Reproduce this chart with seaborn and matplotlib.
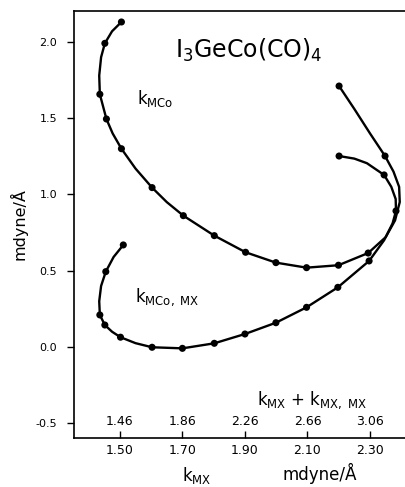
import numpy as np
import pandas as pd
import seaborn as sns
import matplotlib
matplotlib.use('Agg')
import matplotlib.pyplot as plt

# marked points, k_MCo curve (upper)
kmco_x = [1.505, 1.452, 1.436, 1.457, 1.505, 1.603, 1.703, 1.802, 1.902, 1.999,
          2.097, 2.199, 2.294, 2.348, 2.201]
kmco_y = [2.131, 1.991, 1.657, 1.495, 1.300, 1.045, 0.861, 0.730, 0.621, 0.553,
          0.520, 0.536, 0.616, 1.252, 1.711]

# traced line of the same curve (includes unmarked bends)
kmco_line_x = [1.505, 1.475, 1.452, 1.440, 1.434, 1.436, 1.457, 1.477, 1.505, 1.550,
               1.603, 1.650, 1.703, 1.802, 1.902, 1.999, 2.097, 2.199, 2.294, 2.350,
               2.380, 2.395, 2.393, 2.375, 2.348, 2.300, 2.250, 2.201]
kmco_line_y = [2.131, 2.070, 1.991, 1.900, 1.780, 1.657, 1.495, 1.400, 1.300, 1.170,
               1.045, 0.950, 0.861, 0.730, 0.621, 0.553, 0.520, 0.536, 0.616, 0.720,
               0.830, 0.950, 1.050, 1.150, 1.252, 1.400, 1.560, 1.711]

# marked points, k_MCo,MX curve (lower)
kmx_x = [1.511, 1.455, 1.436, 1.452, 1.502, 1.603, 1.700, 1.802, 1.900, 1.999,
         2.097, 2.197, 2.297, 2.383, 2.345, 2.201]
kmx_y = [0.669, 0.494, 0.210, 0.144, 0.064, -0.002, -0.009, 0.024, 0.085, 0.159,
         0.260, 0.391, 0.564, 0.892, 1.128, 1.252]

kmx_line_x = [1.511, 1.480, 1.455, 1.440, 1.434, 1.436, 1.452, 1.475, 1.502, 1.550,
              1.603, 1.700, 1.802, 1.900, 1.999, 2.097, 2.197, 2.297, 2.345, 2.372,
              2.383, 2.382, 2.368, 2.345, 2.290, 2.250, 2.201]
kmx_line_y = [0.669, 0.590, 0.494, 0.400, 0.300, 0.210, 0.144, 0.100, 0.064, 0.025,
              -0.002, -0.009, 0.024, 0.085, 0.159, 0.260, 0.391, 0.564, 0.700, 0.810,
              0.892, 0.970, 1.050, 1.128, 1.205, 1.235, 1.252]

xticks = [1.50, 1.70, 1.90, 2.10, 2.30]
xticklabels = ['1.50', '1.70', '1.90', '2.10', '2.30']
top_ticks = [1.46, 1.86, 2.26, 2.66, 3.06]
top_ticklabels = ['1.46', '1.86', '2.26', '2.66', '3.06']
yticks = [-0.5, 0.0, 0.5, 1.0, 1.5, 2.0]
yticklabels = ['-0.5', '0.0', '0.5', '1.0', '1.5', '2.0']

sns.set_style('ticks')
plt.rcParams['font.family'] = ['DejaVu Sans']
for key in ['text.color', 'axes.labelcolor', 'xtick.color', 'ytick.color', 'axes.edgecolor']:
    plt.rcParams[key] = 'black'

fig = plt.figure(figsize=(4.06, 4.87), dpi=100)
ax = fig.add_axes([0.182, 0.1006, 0.818, 0.8768])

# curves
sns.lineplot(x=kmco_line_x, y=kmco_line_y, sort=False, estimator=None,
             color='black', linewidth=1.7, ax=ax)
sns.lineplot(x=kmx_line_x, y=kmx_line_y, sort=False, estimator=None,
             color='black', linewidth=1.7, ax=ax)
sns.scatterplot(x=kmco_x, y=kmco_y, color='black', s=26, edgecolor='none', ax=ax, zorder=3)
sns.scatterplot(x=kmx_x, y=kmx_y, color='black', s=26, edgecolor='none', ax=ax, zorder=3)

ax.set_xlim(1.353, 2.415)
ax.set_ylim(-0.597, 2.203)

ax.spines['right'].set_visible(False)
for s in ['left', 'bottom', 'top']:
    ax.spines[s].set_linewidth(1.2)

ax.set_xticks(xticks)
ax.set_xticklabels(xticklabels)
ax.set_yticks(yticks)
ax.set_yticklabels(yticklabels)
ax.tick_params(axis='x', direction='in', length=5, width=1, pad=4, labelsize=9)
ax.tick_params(axis='y', direction='out', length=5, width=1, pad=7, labelsize=8)

ax.set_xlabel('')
ax.set_ylabel('mdyne/Å', fontsize=11.5, labelpad=6)

# second scale (k_MX + k_MX,MX) sitting on the bottom axis, labels inside
sec = ax.secondary_xaxis(0.0, functions=(lambda x: 2 * x - 1.54, lambda t: (t + 1.54) / 2))
sec.set_alignment('top')
sec.set_xticks(top_ticks)
sec.set_xticklabels(top_ticklabels)
sec.tick_params(axis='x', length=0, pad=7, labelsize=9, colors='black')
for s in sec.spines.values():
    s.set_visible(False)

ax.text(2.114, -0.348, r'k$_{\mathrm{MX}}$ + k$_{\mathrm{MX,\ MX}}$', fontsize=12,
        ha='center', va='center')

# annotations
ax.text(1.676, 1.895, r'I$_3$GeCo(CO)$_4$', fontsize=17, ha='left', va='baseline')
ax.text(1.554, 1.59, r'k$_{\mathrm{MCo}}$', fontsize=12, ha='left', va='baseline')
ax.text(1.548, 0.295, r'k$_{\mathrm{MCo,\ MX}}$', fontsize=12, ha='left', va='baseline')

# bottom labels
ax.text(1.746, -0.087, r'k$_{\mathrm{MX}}$', fontsize=12, ha='center', va='center',
        transform=ax.get_xaxis_transform())
ax.text(2.14, -0.082, 'mdyne/Å', fontsize=12, ha='center', va='center',
        transform=ax.get_xaxis_transform())

fig.savefig('out.png', dpi=100)
